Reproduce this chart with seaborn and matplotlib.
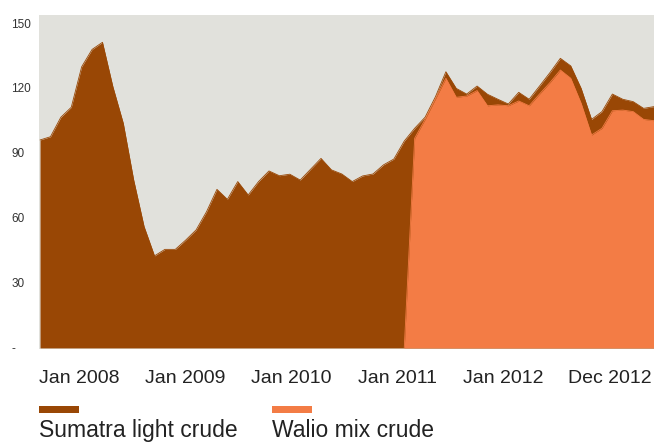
import numpy as np
import pandas as pd
import seaborn as sns
import matplotlib.pyplot as plt
from matplotlib.patches import Rectangle

# monthly prices, Jan 2008 - Dec 2012 (US$/bbl)
months = pd.date_range('2008-01-01', periods=60, freq='MS')
sumatra = [96.0, 97.5, 106.5, 111.1, 129.8, 137.8, 141.1, 120.6, 103.7, 77.5,
           56.0, 42.5, 45.5, 45.5, 49.8, 54.5, 62.9, 73.2, 68.6, 76.8,
           70.6, 76.8, 81.7, 79.5, 80.2, 77.5, 82.5, 87.5, 82.2, 80.3,
           76.8, 79.4, 80.3, 84.5, 87.2, 95.5, 101.4, 106.5, 116.0, 127.5,
           119.8, 117.2, 120.9, 117.1, 114.8, 112.6, 118.0, 114.8, 120.9, 127.1,
           133.7, 130.2, 119.8, 105.5, 109.1, 117.2, 114.8, 113.7, 110.6, 111.4]
walio = [np.nan] * 35 + [0.0, 96.8, 105.5, 115.0, 124.5,
                         115.7, 116.3, 118.8, 111.8, 112.2, 111.8, 114.0, 111.8, 117.2, 122.5,
                         128.3, 124.5, 112.9, 98.3, 101.4, 109.5, 109.8, 109.1, 105.5, 104.9]
xtick_labels = ['Jan 2008', 'Jan 2009', 'Jan 2010', 'Jan 2011', 'Jan 2012', 'Dec 2012']
series_names = ['Sumatra light crude', 'Walio mix crude']
colors = ['#994705', '#f37c45']

df = pd.DataFrame({'idx': np.arange(len(months)), 'month': months,
                   series_names[0]: sumatra, series_names[1]: walio})
long = df.melt(id_vars=['idx', 'month'], var_name='crude', value_name='price').dropna()

sns.set_theme(style='white')
plt.rcParams['font.family'] = ['Liberation Sans', 'DejaVu Sans']

fig = plt.figure(figsize=(6.54, 4.43), dpi=100)
ax = fig.add_axes([39 / 654, 1 - 349 / 443, 615 / 654, 334 / 443])
ax.set_facecolor('#e1e1dc')

for name, c in zip(series_names, colors):
    sub = long[long['crude'] == name]
    ax.fill_between(sub['idx'], 0, sub['price'], color=c, lw=0)
sns.lineplot(data=long, x='idx', y='price', hue='crude', palette=colors,
             hue_order=series_names, lw=0.6, legend=False, ax=ax)

ax.set_xlim(-0.1, 59)
ax.set_ylim(-0.5, 153.7)
for s in ax.spines.values():
    s.set_visible(False)

ax.set_yticks([0, 30, 60, 90, 120, 150])
ax.set_yticklabels(['-', '30', '60', '90', '120', '150'])
ax.tick_params(axis='y', length=0, pad=20, labelsize=8.5, labelcolor='#333333')
for t in ax.get_yticklabels():
    t.set_horizontalalignment('left')

ax.set_xticks(np.linspace(3.75, 54.75, len(xtick_labels)))
ax.set_xticklabels(xtick_labels)
ax.tick_params(axis='x', length=0, pad=15, labelsize=14, labelcolor='#222222')
ax.set_xlabel('')
ax.set_ylabel('')

# legend: swatch above the label
for name, c, x0 in zip(series_names, colors, [39, 272]):
    fig.add_artist(Rectangle((x0 / 654, 1 - 413 / 443), 40 / 654, 7 / 443,
                             transform=fig.transFigure, color=c, lw=0))
    fig.text(x0 / 654, 1 - 437 / 443, name, fontsize=16.5, color='#222222',
             ha='left', va='baseline')

fig.savefig('out.png', dpi=100)
